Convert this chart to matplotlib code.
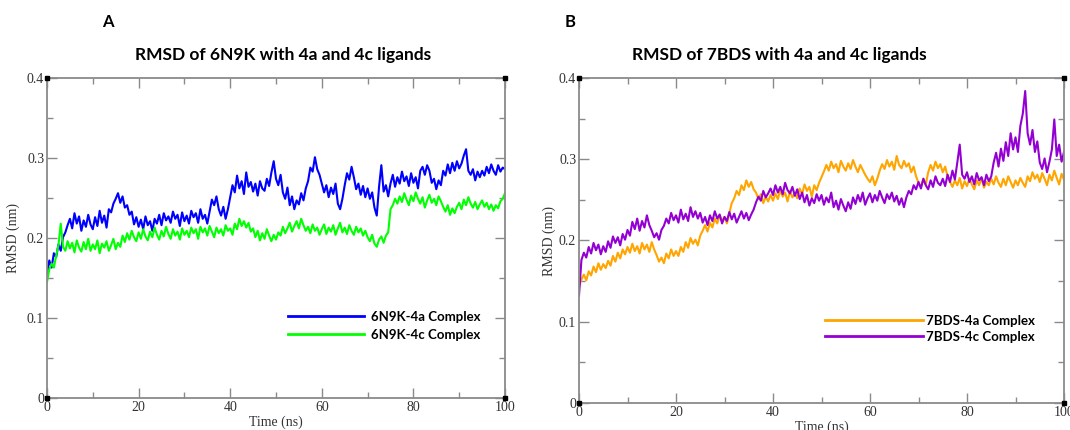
import numpy as np
import matplotlib
matplotlib.use("Agg")
import matplotlib.pyplot as plt
from matplotlib.ticker import MultipleLocator

# time axis, 0.5 ns steps
time_ns = np.linspace(0, 100, 201)

# RMSD (nm), 0.5 ns apart
rmsd_6n9k_4a = [
    0.155, 0.172, 0.163, 0.181, 0.176, 0.192, 0.184, 0.201, 0.207, 0.216,
    0.224, 0.212, 0.231, 0.218, 0.227, 0.209, 0.222, 0.214, 0.229, 0.217,
    0.211, 0.226, 0.215, 0.234, 0.219, 0.228, 0.213, 0.236, 0.232, 0.243,
    0.249, 0.256, 0.244, 0.252, 0.238, 0.241, 0.229, 0.233, 0.217, 0.226,
    0.214, 0.223, 0.211, 0.227, 0.216, 0.221, 0.209, 0.224, 0.218, 0.229,
    0.216, 0.231, 0.222, 0.227, 0.219, 0.233, 0.224, 0.229, 0.215, 0.232,
    0.221, 0.228, 0.218, 0.234, 0.226, 0.231, 0.219, 0.236, 0.224, 0.229,
    0.218, 0.233, 0.248, 0.241, 0.252, 0.236, 0.228, 0.239, 0.224, 0.236,
    0.251, 0.266, 0.257, 0.278, 0.262, 0.271, 0.255, 0.282, 0.264, 0.270,
    0.258, 0.268, 0.253, 0.271, 0.262, 0.259, 0.274, 0.265, 0.282, 0.296,
    0.274, 0.266, 0.279, 0.257, 0.249, 0.263, 0.241, 0.252, 0.236, 0.247,
    0.242, 0.256, 0.247, 0.262, 0.271, 0.288, 0.283, 0.301, 0.286, 0.279,
    0.268, 0.257, 0.266, 0.251, 0.263, 0.255, 0.268, 0.243, 0.236, 0.249,
    0.266, 0.281, 0.273, 0.289, 0.276, 0.261, 0.268, 0.254, 0.265, 0.251,
    0.262, 0.249, 0.257, 0.238, 0.228, 0.264, 0.291, 0.258, 0.266, 0.252,
    0.268, 0.279, 0.264, 0.276, 0.268, 0.283, 0.271, 0.277, 0.265, 0.281,
    0.269, 0.276, 0.262, 0.284, 0.289, 0.279, 0.291, 0.284, 0.269, 0.274,
    0.261, 0.272, 0.266, 0.284, 0.278, 0.292, 0.281, 0.294, 0.284, 0.296,
    0.287, 0.293, 0.303, 0.311, 0.284, 0.279, 0.286, 0.272, 0.283, 0.276,
    0.284, 0.278, 0.289, 0.281, 0.292, 0.284, 0.279, 0.291, 0.283, 0.288,
    0.286,
]

rmsd_6n9k_4c = [
    0.145, 0.161, 0.168, 0.163, 0.178, 0.191, 0.218, 0.189, 0.184, 0.196,
    0.187, 0.194, 0.182, 0.197, 0.188, 0.183, 0.195, 0.186, 0.199, 0.184,
    0.192, 0.186, 0.197, 0.181, 0.193, 0.188, 0.196, 0.184, 0.191, 0.199,
    0.186, 0.194, 0.189, 0.203, 0.195, 0.206, 0.198, 0.209, 0.201, 0.196,
    0.207, 0.199, 0.211, 0.202, 0.197, 0.208, 0.201, 0.213, 0.204, 0.198,
    0.209, 0.202, 0.214, 0.205, 0.199, 0.211, 0.203, 0.208, 0.198, 0.212,
    0.204, 0.209, 0.201, 0.213, 0.206, 0.211, 0.199, 0.214, 0.207, 0.212,
    0.203, 0.215, 0.208, 0.201, 0.213, 0.206, 0.211, 0.203, 0.216, 0.209,
    0.212, 0.204, 0.218, 0.211, 0.224, 0.215, 0.221, 0.213, 0.219, 0.208,
    0.212, 0.201, 0.209, 0.197, 0.206, 0.199, 0.211, 0.203, 0.196, 0.204,
    0.198, 0.207, 0.203, 0.214, 0.206, 0.212, 0.219, 0.208, 0.215, 0.221,
    0.212, 0.224, 0.216, 0.209, 0.214, 0.206, 0.217, 0.209, 0.213, 0.204,
    0.211, 0.217, 0.205, 0.213, 0.208, 0.216, 0.204, 0.212, 0.219, 0.207,
    0.213, 0.205, 0.216, 0.209, 0.204, 0.214, 0.207, 0.212, 0.203, 0.209,
    0.201, 0.196, 0.204, 0.193, 0.189, 0.198, 0.202, 0.194, 0.203, 0.207,
    0.236, 0.241, 0.249, 0.243, 0.252, 0.245, 0.256, 0.248, 0.241, 0.253,
    0.246, 0.257, 0.249, 0.243, 0.251, 0.238, 0.247, 0.254, 0.244, 0.249,
    0.241, 0.252, 0.246, 0.239, 0.233, 0.241, 0.229, 0.237, 0.231, 0.239,
    0.244, 0.236, 0.248, 0.241, 0.251, 0.243, 0.238, 0.245, 0.236, 0.242,
    0.247, 0.239, 0.244, 0.236, 0.242, 0.234, 0.241, 0.237, 0.246, 0.249,
    0.256,
]

rmsd_7bds_4a = [
    0.143, 0.152, 0.158, 0.151, 0.162, 0.157, 0.168, 0.161, 0.172, 0.164,
    0.171, 0.166, 0.175, 0.169, 0.181, 0.174, 0.185, 0.178, 0.189, 0.183,
    0.192, 0.185, 0.196, 0.187, 0.193, 0.184, 0.197, 0.189, 0.195, 0.186,
    0.198, 0.189, 0.182, 0.174, 0.179, 0.172, 0.184, 0.178, 0.189, 0.181,
    0.187, 0.181, 0.192, 0.186, 0.198, 0.191, 0.203, 0.196, 0.201, 0.194,
    0.206, 0.212, 0.219, 0.211, 0.222, 0.216, 0.227, 0.221, 0.231, 0.224,
    0.229, 0.221, 0.234, 0.246, 0.252, 0.261, 0.256, 0.268, 0.262, 0.274,
    0.266, 0.272, 0.263, 0.259, 0.251, 0.257, 0.246, 0.254, 0.248, 0.256,
    0.249, 0.258, 0.251, 0.262, 0.254, 0.259, 0.248, 0.261, 0.253, 0.258,
    0.252, 0.264, 0.257, 0.269, 0.261, 0.266, 0.254, 0.268, 0.262, 0.271,
    0.278, 0.285, 0.293, 0.286, 0.297, 0.289, 0.294, 0.284, 0.298, 0.291,
    0.286, 0.295, 0.288, 0.299, 0.291, 0.284, 0.293, 0.287, 0.281, 0.276,
    0.272, 0.279, 0.268, 0.276, 0.286, 0.294, 0.288, 0.299, 0.291, 0.297,
    0.287, 0.304, 0.293, 0.289, 0.298, 0.291, 0.295, 0.284, 0.291, 0.279,
    0.271, 0.266, 0.276, 0.269, 0.284, 0.293, 0.286, 0.297, 0.289, 0.294,
    0.284, 0.291, 0.279, 0.272, 0.266, 0.274, 0.268, 0.277, 0.264, 0.273,
    0.267, 0.276, 0.269, 0.263, 0.274, 0.268, 0.277, 0.265, 0.272, 0.268,
    0.276, 0.269, 0.279, 0.271, 0.266, 0.276, 0.268, 0.279, 0.272, 0.265,
    0.274, 0.268, 0.277, 0.271, 0.266, 0.279, 0.273, 0.284, 0.276, 0.281,
    0.272, 0.283, 0.276, 0.268, 0.281, 0.274, 0.286, 0.277, 0.269, 0.282,
    0.275,
]

rmsd_7bds_4c = [
    0.132, 0.176, 0.185, 0.179, 0.192, 0.184, 0.197, 0.188, 0.195, 0.183,
    0.193, 0.186, 0.199, 0.191, 0.205, 0.197, 0.204, 0.194, 0.208, 0.201,
    0.213, 0.206, 0.223, 0.214, 0.227, 0.212, 0.224, 0.216, 0.231, 0.219,
    0.212, 0.204, 0.209, 0.201, 0.213, 0.218, 0.227, 0.221, 0.234, 0.225,
    0.231, 0.222, 0.238, 0.226, 0.233, 0.224, 0.241, 0.229, 0.236, 0.227,
    0.234, 0.222, 0.229, 0.219, 0.231, 0.224, 0.236, 0.227, 0.232, 0.221,
    0.229, 0.224, 0.235, 0.226, 0.233, 0.222, 0.229, 0.236, 0.227, 0.234,
    0.225, 0.232, 0.238, 0.247, 0.254, 0.249, 0.261, 0.253, 0.258, 0.264,
    0.256, 0.268, 0.259, 0.266, 0.257, 0.271, 0.262, 0.258, 0.266, 0.255,
    0.263, 0.251, 0.259, 0.247, 0.256, 0.243, 0.252, 0.246, 0.257, 0.249,
    0.256, 0.244, 0.253, 0.247, 0.259, 0.241, 0.249, 0.238, 0.251, 0.243,
    0.236, 0.247, 0.239, 0.253, 0.245, 0.256, 0.248, 0.259, 0.244, 0.252,
    0.258, 0.247, 0.256, 0.249, 0.261, 0.253, 0.246, 0.257, 0.251, 0.259,
    0.248, 0.255, 0.244, 0.252, 0.241, 0.253, 0.261, 0.257, 0.268, 0.263,
    0.272, 0.264, 0.276, 0.268, 0.263, 0.274, 0.266, 0.279, 0.271, 0.268,
    0.276, 0.267, 0.281, 0.272, 0.286, 0.275, 0.296, 0.318, 0.281, 0.276,
    0.284, 0.272, 0.279, 0.269, 0.283, 0.274, 0.278, 0.268, 0.281, 0.273,
    0.279, 0.296, 0.308, 0.291, 0.313, 0.298, 0.321, 0.304, 0.332, 0.312,
    0.327, 0.309, 0.341, 0.356, 0.384, 0.332, 0.318, 0.336, 0.309, 0.322,
    0.296, 0.288, 0.301, 0.284, 0.297, 0.312, 0.349, 0.304, 0.318, 0.297,
    0.309,
]

panels = [
    {
        "letter": "A",
        "title": "RMSD of 6N9K with 4a and 4c ligands",
        "series": [rmsd_6n9k_4a, rmsd_6n9k_4c],
        "labels": ["6N9K-4a Complex", "6N9K-4c Complex"],
        "colors": ["#0000ff", "#00ff00"],
    },
    {
        "letter": "B",
        "title": "RMSD of 7BDS with 4a and 4c ligands",
        "series": [rmsd_7bds_4a, rmsd_7bds_4c],
        "labels": ["7BDS-4a Complex", "7BDS-4c Complex"],
        "colors": ["#ffa500", "#9400d3"],
    },
]

W, H = 1070, 430
fig = plt.figure(figsize=(W / 100, H / 100), dpi=100)

# axes boxes in pixels: left, right, top, bottom
boxes = [(47, 505, 78, 398), (579, 1064, 78, 403)]
legend_anchor = [(0.526, 0.272), (0.507, 0.271)]
legend_handle = [5.8, 7.4]
legend_pad = [0.5, 0.25]
legend_space = [0.45, 0.3]
ylabel_pad = [5, 2]
title_x = [283, 779]
letter_x = [108, 570]

sans = ["Lato", "DejaVu Sans"]
serif = ["Liberation Serif", "DejaVu Serif"]
grey = "#8a8a8a"

for i, p in enumerate(panels):
    l, r, t, b = boxes[i]
    ax = fig.add_axes([l / W, 1 - b / H, (r - l) / W, (b - t) / H])
    for s, lab, c in zip(p["series"], p["labels"], p["colors"]):
        ax.plot(time_ns, s, color=c, lw=1.5, label=lab)

    ax.set_xlim(0, 100)
    ax.set_ylim(0, 0.4)
    ax.xaxis.set_major_locator(MultipleLocator(20))
    ax.xaxis.set_minor_locator(MultipleLocator(10))
    ax.yaxis.set_major_locator(MultipleLocator(0.1))
    ax.yaxis.set_minor_locator(MultipleLocator(0.05))
    ax.yaxis.set_major_formatter(plt.FuncFormatter(lambda v, _: "0" if v == 0 else f"{v:.1f}"))
    ax.tick_params(which="both", direction="in", top=True, right=True,
                   color=grey, width=1.0, labelsize=10, labelcolor="#333333", pad=2)
    ax.tick_params(which="major", length=7)
    ax.tick_params(which="minor", length=4)
    for lbl in ax.get_xticklabels() + ax.get_yticklabels():
        lbl.set_family(serif)
    for sp in ax.spines.values():
        sp.set_color(grey)
        sp.set_linewidth(1.3)

    # little black corner squares
    ax.plot([0, 1, 0, 1], [0, 0, 1, 1], "s", color="black", ms=3.5,
            transform=ax.transAxes, clip_on=False, zorder=5)

    ax.set_xlabel("Time (ns)", family=serif, fontsize=10, color="#333333", labelpad=1)
    ax.set_ylabel("RMSD (nm)", family=serif, fontsize=10, color="#333333", labelpad=ylabel_pad[i])

    leg = ax.legend(loc="upper left", bbox_to_anchor=legend_anchor[i], frameon=False,
                    borderpad=0, borderaxespad=0, handlelength=legend_handle[i],
                    handletextpad=legend_pad[i], labelspacing=legend_space[i],
                    prop={"family": sans, "weight": "bold", "size": 9.5})
    for h in leg.legend_handles:
        h.set_linewidth(2.0)

    fig.text(title_x[i] / W, 1 - 55 / H, p["title"], ha="center", va="center",
             family=sans, weight="bold", fontsize=12.5)
    fig.text(letter_x[i] / W, 1 - 22 / H, p["letter"], ha="center", va="center",
             family=sans, weight="bold", fontsize=12)

fig.savefig("out.png", dpi=100)
